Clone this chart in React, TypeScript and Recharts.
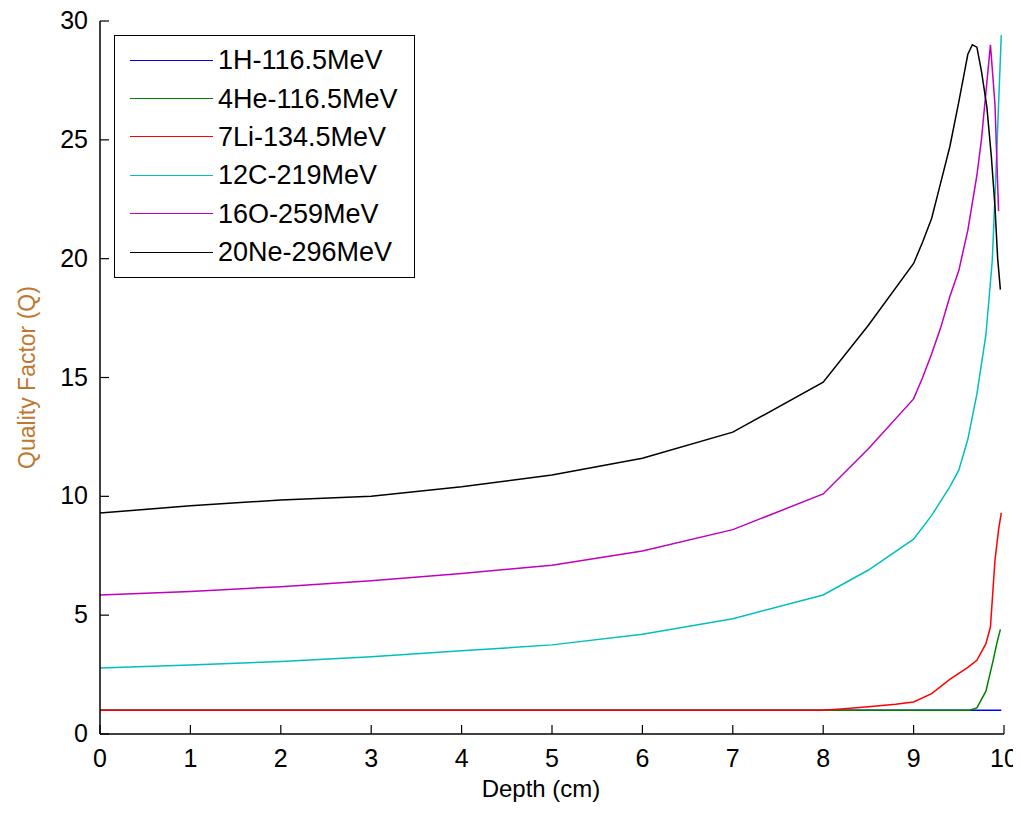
import React from "react";
import { LineChart, Line, XAxis, YAxis, Legend } from "recharts";

// depth (cm) / quality factor readings for each beam
const depthH = [0, 9.97];
const qH = [1, 1];

const depthHe = [0, 9.62, 9.7, 9.8, 9.88, 9.92, 9.96];
const qHe = [1, 1, 1.1, 1.8, 3.1, 3.8, 4.4];

const depthLi = [0, 8, 8.2, 8.5, 8.8, 9, 9.2, 9.4, 9.6, 9.7, 9.8, 9.85, 9.9, 9.94, 9.97];
const qLi = [1, 1, 1.05, 1.15, 1.25, 1.35, 1.7, 2.3, 2.8, 3.1, 3.8, 4.5, 7.3, 8.6, 9.3];

const depthC = [0, 1, 2, 3, 4, 5, 6, 7, 8, 8.5, 9, 9.2, 9.4, 9.5, 9.6, 9.7, 9.8, 9.87, 9.91, 9.94, 9.97];
const qC = [2.78, 2.9, 3.05, 3.25, 3.5, 3.75, 4.2, 4.85, 5.85, 6.9, 8.2, 9.2, 10.4, 11.1, 12.4, 14.3, 16.8, 19.9, 23.5, 26.5, 29.4];

const depthO = [0, 1, 2, 3, 4, 5, 6, 7, 8, 8.5, 9, 9.1, 9.2, 9.3, 9.4, 9.5, 9.6, 9.7, 9.75, 9.8, 9.85, 9.9, 9.94];
const qO = [5.85, 6.0, 6.2, 6.45, 6.75, 7.1, 7.7, 8.6, 10.1, 12.0, 14.1, 15.0, 16.0, 17.1, 18.4, 19.5, 21.2, 23.5, 25.0, 27.0, 29.0, 26.5, 22.0];

const depthNe = [0, 1, 2, 3, 4, 5, 6, 7, 8, 8.5, 9, 9.1, 9.2, 9.3, 9.4, 9.5, 9.6, 9.65, 9.7, 9.75, 9.81, 9.86, 9.9, 9.93, 9.96];
const qNe = [9.3, 9.6, 9.85, 10.0, 10.4, 10.9, 11.6, 12.7, 14.8, 17.2, 19.8, 20.7, 21.7, 23.2, 24.7, 26.6, 28.6, 29.0, 28.9, 27.9, 26.4, 24.3, 22.2, 20.0, 18.7];

const xTicks = [0, 1, 2, 3, 4, 5, 6, 7, 8, 9, 10];
const yTicks = [0, 5, 10, 15, 20, 25, 30];

const toPoints = (xs: number[], ys: number[]) =>
  xs.map((x, i) => ({ depth: x, q: ys[i] }));

const series = [
  { name: "1H-116.5MeV", color: "#0000ff", data: toPoints(depthH, qH) },
  { name: "4He-116.5MeV", color: "#008000", data: toPoints(depthHe, qHe) },
  { name: "7Li-134.5MeV", color: "#ff0000", data: toPoints(depthLi, qLi) },
  { name: "12C-219MeV", color: "#00bfbf", data: toPoints(depthC, qC) },
  { name: "16O-259MeV", color: "#bf00bf", data: toPoints(depthO, qO) },
  { name: "20Ne-296MeV", color: "#000000", data: toPoints(depthNe, qNe) },
];

const FONT = '"Liberation Sans", Arial, sans-serif';
const TICK = 9;
const axisLine = { stroke: "#000", strokeWidth: 1.5 };

const BottomTick = (props: any) => {
  const { x, y, payload } = props;
  return (
    <g>
      <line x1={x} y1={y} x2={x} y2={y - TICK} stroke="#000" strokeWidth={1.2} />
      <text x={x} y={y + 33} textAnchor="middle" fontSize={25} fontFamily={FONT} fill="#000">
        {payload.value}
      </text>
    </g>
  );
};

const LeftTick = (props: any) => {
  const { x, y, payload } = props;
  return (
    <g>
      <line x1={x} y1={y} x2={x + TICK} y2={y} stroke="#000" strokeWidth={1.2} />
      <text x={x - 12} y={y + 8} textAnchor="end" fontSize={25} fontFamily={FONT} fill="#000">
        {payload.value}
      </text>
    </g>
  );
};

const TopTick = (props: any) => (
  <line x1={props.x} y1={props.y} x2={props.x} y2={props.y + TICK} stroke="#000" strokeWidth={1.2} />
);

const RightTick = (props: any) => (
  <line x1={props.x} y1={props.y} x2={props.x - TICK} y2={props.y} stroke="#000" strokeWidth={1.2} />
);

const LegendBox = () => (
  <div
    style={{
      border: "1.5px solid #000",
      background: "#fff",
      width: 301,
      height: 243,
      boxSizing: "border-box",
      paddingTop: 5,
      fontFamily: FONT,
    }}
  >
    {series.map((s) => (
      <div key={s.name} style={{ display: "flex", alignItems: "center", height: 38.4 }}>
        <div style={{ marginLeft: 15, width: 83, borderTop: `1.5px solid ${s.color}` }} />
        <span style={{ marginLeft: 5, fontSize: 27, color: "#000", lineHeight: "38px" }}>{s.name}</span>
      </div>
    ))}
  </div>
);

const App = () => {
  return (
    <div style={{ width: 1005, height: 797, background: "#fff" }}>
      <style>{"html, body { overflow: hidden; } svg.recharts-surface { overflow: visible; } .recharts-wrapper { overflow: visible !important; }"}</style>
      <LineChart width={1005} height={797} margin={{ top: 13, right: 9, left: 0, bottom: 0 }}>
        <XAxis
          dataKey="depth"
          type="number"
          domain={[0, 10]}
          ticks={xTicks}
          interval={0}
          height={71}
          tickSize={0}
          tickMargin={0}
          tickLine={false}
          axisLine={axisLine}
          tick={<BottomTick />}
          label={{
            value: "Depth (cm)",
            position: "insideBottom",
            offset: 8,
            dx: -11,
            style: { fontSize: 24, fontFamily: FONT, fill: "#000" },
          }}
        />
        <XAxis
          xAxisId="top"
          orientation="top"
          dataKey="depth"
          type="number"
          domain={[0, 10]}
          ticks={xTicks}
          interval={0}
          height={0}
          tickSize={0}
          tickMargin={0}
          tickLine={false}
          axisLine={axisLine}
          tick={<TopTick />}
        />
        <YAxis
          type="number"
          domain={[0, 30]}
          ticks={yTicks}
          interval={0}
          width={92}
          tickSize={0}
          tickMargin={0}
          tickLine={false}
          axisLine={axisLine}
          tick={<LeftTick />}
          label={{
            value: "Quality Factor (Q)",
            angle: -90,
            position: "insideLeft",
            offset: 19,
            style: { textAnchor: "middle", fontSize: 23, fontFamily: FONT, fill: "#c07830" },
          }}
        />
        <YAxis
          yAxisId="right"
          orientation="right"
          type="number"
          domain={[0, 30]}
          ticks={yTicks}
          interval={0}
          width={0}
          tickSize={0}
          tickMargin={0}
          tickLine={false}
          axisLine={axisLine}
          tick={<RightTick />}
        />
        <Legend
          layout="vertical"
          align="center"
          verticalAlign="middle"
          content={<LegendBox />}
          wrapperStyle={{ left: 106, top: 27, width: 301, height: 243 }}
        />
        {series.map((s) => (
          <Line
            key={s.name}
            name={s.name}
            data={s.data}
            dataKey="q"
            type="linear"
            stroke={s.color}
            strokeWidth={1.5}
            dot={false}
            activeDot={false}
            isAnimationActive={false}
          />
        ))}
      </LineChart>
    </div>
  );
};

export default App;
